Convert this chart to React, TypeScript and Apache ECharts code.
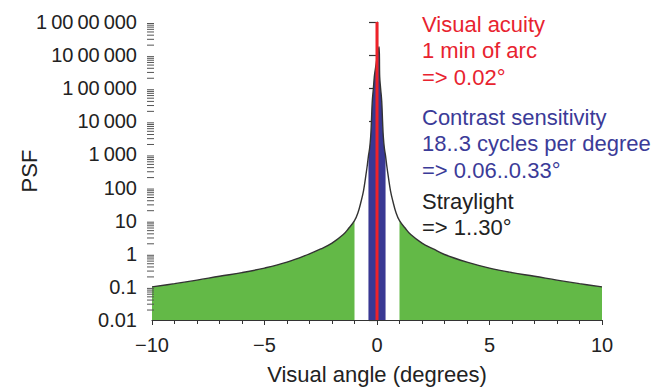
import React, { useEffect, useRef } from "react";
import * as echarts from "echarts";

// Point spread function (x in degrees, y = PSF)
const curveX = [-10, -9, -8, -7, -6, -5, -4, -3, -2.5, -2, -1.5, -1.25, -1, -0.85, -0.7, -0.6, -0.5, -0.43, -0.38, -0.33, -0.28, -0.25, -0.21, -0.16, -0.12, -0.09,
  0.09, 0.12, 0.16, 0.21, 0.25, 0.28, 0.33, 0.38, 0.43, 0.5, 0.6, 0.7, 0.85, 1, 1.25, 1.5, 2, 2.5, 3, 4, 5, 6, 7, 8, 9, 10];
const curveY = [0.1, 0.125, 0.16, 0.21, 0.27, 0.37, 0.56, 1.0, 1.4, 2.1, 3.8, 6, 10, 17, 40, 80, 220, 480, 900, 1500, 3500, 9000, 40000, 100000, 220000, 320000,
  1800000, 220000, 100000, 40000, 9000, 3500, 1500, 900, 480, 220, 80, 40, 17, 10, 6, 3.8, 2.1, 1.4, 0.95, 0.56, 0.37, 0.27, 0.21, 0.16, 0.125, 0.1];

const straylightRange = [1, 10];      // green bands, |x| >= 1
const contrastRange = [-0.38, 0.38];  // blue band
const acuityX = 0;                    // red line
const acuityTop = 10000000;

const yTickLabels = ["0.01", "0.1", "1", "10", "100", "1\u2009000", "10\u2009000", "1\u200900\u2009000", "10\u200900\u2009000", "1\u200900\u200900\u2009000"];
const xTickValues = [-10, -5, 0, 5, 10];
const xTickLabels = ["\u221210", "\u22125", "0", "5", "10"];
const yMinorMultipliers = [2, 3, 4, 5, 6, 7, 8, 9];
const yDecades = [-2, -1, 0, 1, 2, 3, 4, 5, 6];

const annotations = [
  { lines: ["Visual acuity", "1 min of arc", "=> 0.02\u00b0"], color: "#e8232f" },
  { lines: ["Contrast sensitivity", "18..3 cycles per degree", "=> 0.06..0.33\u00b0"], color: "#3b3b98" },
  { lines: ["Straylight", "=> 1..30\u00b0"], color: "#222222" },
];

const FONT = "'Liberation Sans', Arial, sans-serif";

export default function App() {
  const ref = useRef<HTMLDivElement>(null);
  useEffect(() => {
    if (!ref.current) return;
    const chart = echarts.init(ref.current, null, { renderer: "svg" });
    const pts = curveX.map((x, i) => [x, curveY[i]]);
    const greenLeft = pts.filter((p) => p[0] <= -straylightRange[0]);
    const greenRight = pts.filter((p) => p[0] >= straylightRange[0]);
    const blue = pts.filter((p) => p[0] >= contrastRange[0] && p[0] <= contrastRange[1]);
    const minorData: number[][] = [];
    yDecades.forEach((d) => yMinorMultipliers.forEach((m) => minorData.push([-10, m * Math.pow(10, d)])));

    const SMOOTH = 0.4;
    const areaSeries = (data: number[][], color: string) => ({
      type: "line",
      data,
      smooth: SMOOTH,
      symbol: "none",
      lineStyle: { width: 0 },
      areaStyle: { color, opacity: 1, origin: "start" },
      silent: true,
      z: 2,
    });

    const topsY = [11, 104, 188];
    chart.setOption({
      animation: false,
      grid: { left: 152, right: 49, top: 22, bottom: 72, containLabel: false, outerBoundsMode: "none" },
      xAxis: {
        type: "value",
        min: -10,
        max: 10,
        interval: 5,
        name: "Visual angle (degrees)",
        nameLocation: "middle",
        nameGap: 43,
        nameMoveOverlap: false,
        nameTextStyle: { fontSize: 22, color: "#222", fontFamily: FONT },
        axisLine: { lineStyle: { color: "#333", width: 1.2 } },
        axisTick: { length: 5, lineStyle: { color: "#333" } },
        minorTick: { show: true, splitNumber: 5, length: 4, lineStyle: { color: "#333" } },
        splitLine: { show: false },
        axisLabel: {
          fontSize: 20,
          color: "#222",
          fontFamily: FONT,
          margin: 15,
          formatter: (v: number) => {
            const i = xTickValues.indexOf(v);
            return i >= 0 ? xTickLabels[i] : "";
          },
        },
      },
      yAxis: {
        type: "log",
        logBase: 10,
        min: 0.01,
        max: 10000000,
        name: "PSF",
        nameLocation: "middle",
        nameGap: 112,
        nameMoveOverlap: false,
        nameTextStyle: { fontSize: 22, color: "#222", fontFamily: FONT },
        axisLine: { show: true, lineStyle: { color: "#333", width: 1.2 } },
        axisTick: { show: true, length: 8, lineStyle: { color: "#333", width: 1.2 } },
        splitLine: { show: false },
        axisLabel: {
          fontSize: 20,
          color: "#222",
          fontFamily: FONT,
          margin: 15,
          formatter: (v: number) => {
            const i = Math.round(Math.log10(v)) + 2;
            return yTickLabels[i] ?? "";
          },
        },
      },
      series: [
        areaSeries(greenLeft, "#63b947"),
        areaSeries(greenRight, "#63b947"),
        areaSeries(blue, "#393893"),
        {
          type: "line",
          data: pts,
          smooth: SMOOTH,
          symbol: "none",
          lineStyle: { color: "#333", width: 1.4 },
          silent: true,
          z: 3,
        },
        {
          type: "line",
          data: [[acuityX, 0.01], [acuityX, acuityTop]],
          symbol: "none",
          lineStyle: { color: "#ee2229", width: 3 },
          silent: true,
          z: 4,
        },
        {
          type: "custom",
          data: minorData,
          silent: true,
          z: 5,
          renderItem: (params: any, api: any) => {
            const p = api.coord([api.value(0), api.value(1)]);
            return {
              type: "line",
              shape: { x1: p[0] - 5, y1: p[1], x2: p[0] + 2, y2: p[1] },
              style: { stroke: "#555", lineWidth: 1 },
            };
          },
        },
      ],
      graphic: annotations.map((a, i) => ({
        type: "text",
        left: 422,
        top: topsY[i],
        style: {
          text: a.lines.join("\n"),
          fill: a.color,
          fontSize: 22,
          lineHeight: 26.5,
          fontFamily: FONT,
        },
      })),
    });
    return () => chart.dispose();
  }, []);
  return <div ref={ref} style={{ position: "fixed", left: 0, top: 0, width: 651, height: 392, background: "#fff" }} />;
}
